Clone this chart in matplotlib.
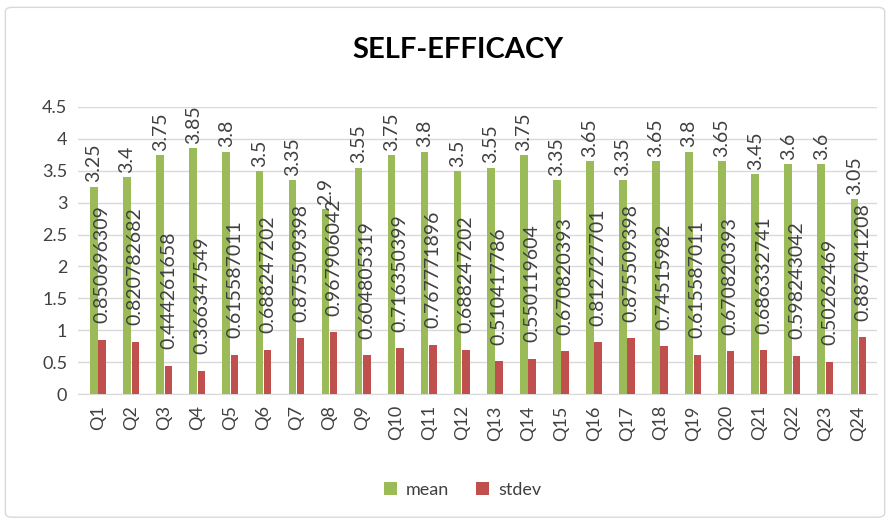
import numpy as np
import matplotlib.pyplot as plt
from matplotlib.patches import FancyBboxPatch

questions = ["Q%d" % i for i in range(1, 25)]
mean = [3.25, 3.4, 3.75, 3.85, 3.8, 3.5, 3.35, 2.9, 3.55, 3.75, 3.8, 3.5,
        3.55, 3.75, 3.35, 3.65, 3.35, 3.65, 3.8, 3.65, 3.45, 3.6, 3.6, 3.05]
stdev = [0.850696309, 0.820782682, 0.444261658, 0.366347549, 0.615587011,
         0.688247202, 0.875509398, 0.967906042, 0.604805319, 0.716350399,
         0.767771896, 0.688247202, 0.510417786, 0.550119604, 0.670820393,
         0.812727701, 0.875509398, 0.74515982, 0.615587011, 0.670820393,
         0.686332741, 0.598243042, 0.50262469, 0.887041208]
mean_lbl = ["3.25", "3.4", "3.75", "3.85", "3.8", "3.5", "3.35", "2.9", "3.55", "3.75",
            "3.8", "3.5", "3.55", "3.75", "3.35", "3.65", "3.35", "3.65", "3.8", "3.65",
            "3.45", "3.6", "3.6", "3.05"]
std_lbl = ["0.850696309", "0.820782682", "0.444261658", "0.366347549", "0.615587011",
           "0.688247202", "0.875509398", "0.967906042", "0.604805319", "0.716350399",
           "0.767771896", "0.688247202", "0.510417786", "0.550119604", "0.670820393",
           "0.812727701", "0.875509398", "0.74515982", "0.615587011", "0.670820393",
           "0.686332741", "0.598243042", "0.50262469", "0.887041208"]

plt.rcParams['font.family'] = ['Lato', 'DejaVu Sans']
green = '#9BBB59'
red = '#C0504D'
txt = '#404040'

fig = plt.figure(figsize=(8.9, 5.24), dpi=100)
border = FancyBboxPatch((0.006, 0.013), 0.988, 0.973, boxstyle="round,pad=0,rounding_size=0.008",
                        transform=fig.transFigure, fc='white', ec='#D9D9D9', lw=1, zorder=-5)
fig.patches.append(border)
ax = fig.add_axes([0.088, 0.248, 0.897, 0.548])

x = np.arange(len(questions))
w = 0.23
b1 = ax.bar(x - 0.125, mean, w, color=green, label='mean', zorder=3)
b2 = ax.bar(x + 0.125, stdev, w, color=red, label='stdev', zorder=3)

# data labels, rotated like the excel chart
for xi, v, s in zip(x, mean, mean_lbl):
    ax.annotate(s, (xi - 0.125, v), xytext=(0, 3), textcoords='offset points',
                rotation=90, ha='center', va='bottom', fontsize=14, color=txt, zorder=4)
for xi, v, s in zip(x, stdev, std_lbl):
    ax.annotate(s, (xi + 0.125, v), xytext=(0, 12), textcoords='offset points',
                rotation=90, ha='center', va='bottom', fontsize=14, color=txt, zorder=4)

ax.set_ylim(0, 4.5)
ax.set_xlim(-0.6, len(questions) - 0.45)
ax.set_yticks(np.arange(0, 4.51, 0.5))
ax.set_yticklabels(["0", "0.5", "1", "1.5", "2", "2.5", "3", "3.5", "4", "4.5"])
ax.set_xticks(x)
ax.set_xticklabels(questions, rotation=90)
ax.tick_params(axis='both', length=0, labelsize=13, labelcolor=txt, pad=8)
ax.grid(axis='y', color='#D9D9D9', lw=1, zorder=0)
for sp in ['top', 'right', 'left']:
    ax.spines[sp].set_visible(False)
ax.spines['bottom'].set_color('#D9D9D9')
ax.set_facecolor('none')

fig.text(0.515, 0.905, "SELF-EFFICACY", ha='center', va='center', fontsize=21,
         fontweight='bold', color='black')
fig.legend(handles=[b1, b2], loc='center', bbox_to_anchor=(0.52, 0.065), ncol=2,
           frameon=False, fontsize=13, handlelength=0.7, handleheight=0.7,
           columnspacing=1.5, handletextpad=0.5, labelcolor=txt)

fig.savefig('out.png', dpi=100)
